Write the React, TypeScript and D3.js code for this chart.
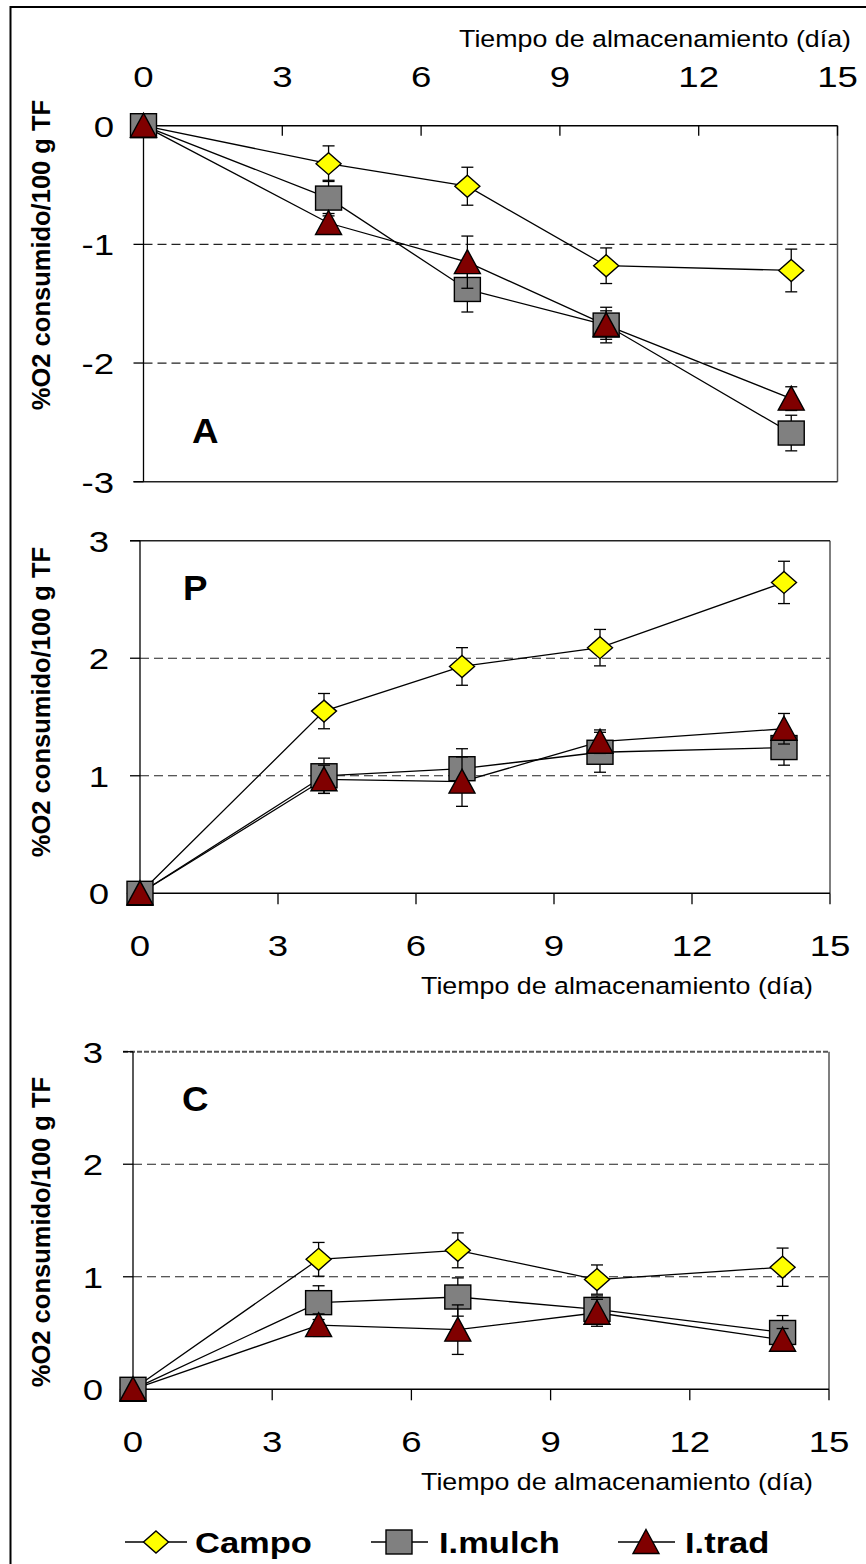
import React from 'react';
import * as d3 from 'd3';

// ---------- data ----------
const days = [0, 4, 7, 10, 14];
const xTicks = [0, 3, 6, 9, 12, 15];
const seriesNames = ['Campo', 'I.mulch', 'I.trad'];
const seriesColors = ['#FFFF00', '#808080', '#800000'];
const markerShapes = ['diamond', 'square', 'triangle'];

const xAxisTitle = 'Tiempo de almacenamiento (día)';
const yAxisTitle = '%O2 consumido/100 g TF';

// Panel A
const campoA = [0, -0.32, -0.51, -1.18, -1.22];
const campoAErr = [0, 0.15, 0.16, 0.15, 0.18];
const mulchA = [0, -0.61, -1.38, -1.68, -2.59];
const mulchAErr = [0, 0.15, 0.19, 0.15, 0.15];
const tradA = [0, -0.82, -1.15, -1.68, -2.3];
const tradAErr = [0, 0.08, 0.22, 0.12, 0.1];
const yTicksA = [0, -1, -2, -3];

// Panel P
const campoP = [0, 1.55, 1.93, 2.09, 2.645];
const campoPErr = [0, 0.15, 0.16, 0.155, 0.18];
const mulchP = [0, 1.0, 1.06, 1.2, 1.24];
const mulchPErr = [0, 0.15, 0.17, 0.17, 0.15];
const tradP = [0, 0.97, 0.95, 1.29, 1.4];
const tradPErr = [0, 0.12, 0.21, 0.1, 0.13];
const yTicksP = [0, 1, 2, 3];

// Panel C
const campoC = [0, 1.155, 1.235, 0.975, 1.085];
const campoCErr = [0, 0.15, 0.155, 0.13, 0.17];
const mulchC = [0, 0.77, 0.82, 0.71, 0.505];
const mulchCErr = [0, 0.15, 0.17, 0.12, 0.15];
const tradC = [0, 0.57, 0.53, 0.68, 0.44];
const tradCErr = [0, 0.1, 0.22, 0.12, 0.1];
const yTicksC = [0, 1, 2, 3];

// ---------- layout ----------
const W = 866;
const H = 1564;
const FONT = 'Liberation Sans, Arial, Helvetica, sans-serif';

type Panel = {
  label: string;
  x0: number; x1: number; yTop: number; yBot: number;
  yDomain: [number, number];
  yTicks: number[];
  grid: number[];
  xAxisTop: boolean;
  values: number[][];
  errs: number[][];
  labelX: number; labelY: number;
  yLabelEnd: number;
  titleCy: number;
  topDashed: boolean;
};

const panels: Panel[] = [
  {
    label: 'A', x0: 143.5, x1: 837.5, yTop: 125.7, yBot: 481.7,
    yDomain: [-3, 0], yTicks: yTicksA, grid: [-1, -2], xAxisTop: true,
    values: [campoA, mulchA, tradA], errs: [campoAErr, mulchAErr, tradAErr],
    labelX: 192, labelY: 443, yLabelEnd: 114, titleCy: 255, topDashed: false,
  },
  {
    label: 'P', x0: 140, x1: 830, yTop: 540.7, yBot: 893.3,
    yDomain: [0, 3], yTicks: yTicksP, grid: [1, 2], xAxisTop: false,
    values: [campoP, mulchP, tradP], errs: [campoPErr, mulchPErr, tradPErr],
    labelX: 183, labelY: 600, yLabelEnd: 109, titleCy: 702, topDashed: false,
  },
  {
    label: 'C', x0: 133, x1: 829, yTop: 1051.7, yBot: 1389.3,
    yDomain: [0, 3], yTicks: yTicksC, grid: [1, 2], xAxisTop: false,
    values: [campoC, mulchC, tradC], errs: [campoCErr, mulchCErr, tradCErr],
    labelX: 182, labelY: 1111, yLabelEnd: 103, titleCy: 1232, topDashed: true,
  },
];

const ST = ({ x, y, sx = 1.2, anchor = 'middle', size, weight = 'normal', children }: any) => (
  <text
    transform={`translate(${x},${y}) scale(${sx},1)`}
    textAnchor={anchor}
    fontSize={size}
    fontWeight={weight}
    fontFamily={FONT}
    fill="#000"
  >
    {children}
  </text>
);

function Marker({ shape, cx, cy, fill }: { shape: string; cx: number; cy: number; fill: string }) {
  if (shape === 'diamond') {
    return (
      <path
        d={`M${cx},${cy - 11}L${cx + 12.5},${cy}L${cx},${cy + 11}L${cx - 12.5},${cy}Z`}
        fill={fill} stroke="#000" strokeWidth={1.4}
      />
    );
  }
  if (shape === 'square') {
    return <rect x={cx - 13} y={cy - 12} width={26} height={24} fill={fill} stroke="#000" strokeWidth={1.4} />;
  }
  return (
    <path
      d={`M${cx},${cy - 12.5}L${cx + 13},${cy + 11.5}L${cx - 13},${cy + 11.5}Z`}
      fill={fill} stroke="#000" strokeWidth={1.4}
    />
  );
}

function PanelView({ p }: { p: Panel }) {
  const x = d3.scaleLinear().domain([0, 15]).range([p.x0, p.x1]);
  const y = d3.scaleLinear().domain(p.yDomain).range([p.yBot, p.yTop]);
  const line = d3.line<[number, number]>().x((d) => x(d[0])).y((d) => y(d[1]));
  const axisY = p.xAxisTop ? p.yTop : p.yBot;
  const otherY = p.xAxisTop ? p.yBot : p.yTop;
  const capHalf = 6;

  return (
    <g>
      {/* gridlines */}
      {p.grid.map((g) => (
        <line key={g} x1={p.x0} x2={p.x1} y1={y(g)} y2={y(g)} stroke="#222" strokeWidth={1.2} strokeDasharray="9,5" />
      ))}
      {/* plot area border (right + opposite side) */}
      <line x1={p.x1} x2={p.x1} y1={p.yTop} y2={p.yBot} stroke="#555" strokeWidth={1.5} />
      {p.topDashed ? (
        <line x1={p.x0 - 10} x2={p.x1} y1={otherY} y2={otherY} stroke="#555" strokeWidth={2} strokeDasharray="5,2" />
      ) : (
        <line x1={p.x0 - 10} x2={p.x1} y1={otherY} y2={otherY} stroke="#222" strokeWidth={1.5} />
      )}
      {/* y axis */}
      <line x1={p.x0} x2={p.x0} y1={p.yTop} y2={p.yBot} stroke="#000" strokeWidth={1.3} />
      {p.yTicks.map((t) => (
        <g key={t}>
          <line x1={p.x0 - 10} x2={p.x0} y1={y(t)} y2={y(t)} stroke="#000" strokeWidth={1.3} />
          <ST x={p.yLabelEnd} y={y(t) + 11} anchor="end" size={30} sx={1.22}>
            {t < 0 ? `-${Math.abs(t)}` : `${t}`}
          </ST>
        </g>
      ))}
      {/* x axis */}
      <line x1={p.x0} x2={p.x1} y1={axisY} y2={axisY} stroke="#000" strokeWidth={1.5} />
      {xTicks.map((t) => (
        <g key={t}>
          {t > 0 && (
            <line
              x1={x(t)} x2={x(t)} y1={axisY} y2={p.xAxisTop ? axisY + 10 : axisY + 11}
              stroke="#000" strokeWidth={1.3}
            />
          )}
          <ST x={x(t)} y={p.xAxisTop ? 87 : axisY + 63} size={30} sx={1.22}>{t}</ST>
        </g>
      ))}
      <ST x={p.xAxisTop ? 851 : 813} y={p.xAxisTop ? 47 : axisY + 101} anchor="end" size={23.5} sx={1.14}>
        {xAxisTitle}
      </ST>
      {/* y axis title */}
      <text
        transform={`translate(50,${p.titleCy}) rotate(-90)`}
        textAnchor="middle" fontSize={25.5} fontWeight="bold" fontFamily={FONT}
      >
        {yAxisTitle}
      </text>
      {/* panel letter */}
      <ST x={p.labelX} y={p.labelY} anchor="start" size={35} weight="bold" sx={1.05}>{p.label}</ST>
      {/* series lines */}
      {p.values.map((vals, si) => (
        <path
          key={`l${si}`}
          d={line(days.map((d, i) => [d, vals[i]] as [number, number])) || ''}
          fill="none" stroke="#000" strokeWidth={1.3}
        />
      ))}
      {/* error bars + markers */}
      {p.values.map((vals, si) => (
        <g key={`m${si}`}>
          {days.map((d, i) =>
            p.errs[si][i] > 0 ? (
              <g key={`e${i}`} stroke="#000" strokeWidth={1.3}>
                <line x1={x(d)} x2={x(d)} y1={y(vals[i] - p.errs[si][i])} y2={y(vals[i] + p.errs[si][i])} />
                <line x1={x(d) - capHalf} x2={x(d) + capHalf} y1={y(vals[i] + p.errs[si][i])} y2={y(vals[i] + p.errs[si][i])} />
                <line x1={x(d) - capHalf} x2={x(d) + capHalf} y1={y(vals[i] - p.errs[si][i])} y2={y(vals[i] - p.errs[si][i])} />
              </g>
            ) : null
          )}
          {days.map((d, i) => (
            <Marker key={`k${i}`} shape={markerShapes[si]} cx={x(d)} cy={y(vals[i])} fill={seriesColors[si]} />
          ))}
        </g>
      ))}
    </g>
  );
}

const legendItems = [
  { x1: 125, x2: 187, mx: 156, tx: 195 },
  { x1: 371, x2: 428, mx: 399, tx: 439 },
  { x1: 618, x2: 675, mx: 646, tx: 685 },
];

export default function App() {
  const legendY = 1542;
  return (
    <svg
      width={W}
      height={H}
      viewBox={`0 0 ${W} ${H}`}
      style={{ position: 'absolute', left: 0, top: 0, background: '#fff' }}
    >
      <rect x={0} y={0} width={W} height={H} fill="#fff" />
      <rect x={10.5} y={7} width={W + 50} height={H + 50} fill="none" stroke="#000" strokeWidth={2} />
      {panels.map((p) => (
        <PanelView key={p.label} p={p} />
      ))}
      {seriesNames.map((name, si) => {
        const it = legendItems[si];
        return (
          <g key={name}>
            <line x1={it.x1} x2={it.x2} y1={legendY} y2={legendY} stroke="#000" strokeWidth={1.5} />
            <Marker shape={markerShapes[si]} cx={it.mx} cy={legendY} fill={seriesColors[si]} />
            <ST x={it.tx} y={legendY + 11} anchor="start" size={29.5} weight="bold" sx={1.17}>{name}</ST>
          </g>
        );
      })}
    </svg>
  );
}
